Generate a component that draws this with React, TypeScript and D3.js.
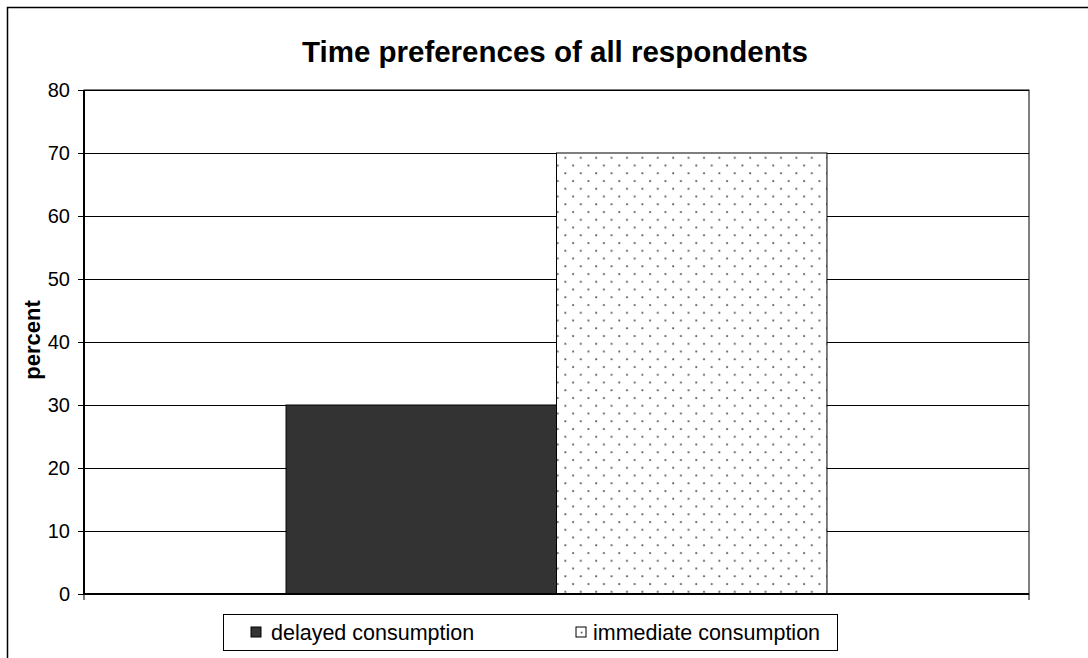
import React from "react";
import * as d3 from "d3";

const categories = ["all respondents"];
const seriesNames = ["delayed consumption", "immediate consumption"];
const seriesValues = [30, 70];
const yTicks = [0, 10, 20, 30, 40, 50, 60, 70, 80];
const titleText = "Time preferences of all respondents";
const yLabel = "percent";

export default function App() {
  const W = 1088, H = 658;
  const left = 84, right = 1029, top = 90, bottom = 594;
  const y = d3.scaleLinear().domain([0, 80]).range([bottom, top]);
  const x0 = d3.scaleBand<string>().domain(categories).range([left, right]).padding(0);
  const x1 = d3.scaleBand<string>().domain(seriesNames).range([0, x0.bandwidth()]).paddingInner(0).paddingOuter(0.747);
  const font = "Arial, 'Liberation Sans', sans-serif";
  const fills = ["#333333", "url(#dots)"];

  return (
    <svg width={W} height={H} style={{ position: "absolute", left: 0, top: 0, background: "#fff" }} fontFamily={font}>
      <defs>
        <pattern id="dots" patternUnits="userSpaceOnUse" width={15.4} height={15.5} x={563.3} y={155.7}>
          <rect width={15.4} height={15.5} fill="#fff" />
          <rect x={1.2} y={1.2} width={1.8} height={1.8} fill="#555" />
          <rect x={8.9} y={8.95} width={1.8} height={1.8} fill="#555" />
        </pattern>
        <pattern id="dotsLeg" patternUnits="userSpaceOnUse" width={11} height={11} x={576} y={627}>
          <rect width={11} height={11} fill="#fff" />
          <rect x={4.7} y={4.7} width={1.7} height={1.7} fill="#555" />
        </pattern>
      </defs>
      <rect x={7.5} y={7.5} width={1200} height={800} fill="#fff" stroke="#000" strokeWidth={1.5} />
      <text x={555} y={62} textAnchor="middle" fontWeight="bold" fontSize={29.5}>{titleText}</text>
      <rect x={left} y={top} width={right - left} height={bottom - top} fill="#fff" stroke="#000" strokeWidth={1} />
      {yTicks.map((t) => (
        <g key={t}>
          <line x1={left} x2={right} y1={Math.round(y(t)) + 0.5} y2={Math.round(y(t)) + 0.5} stroke="#000" strokeWidth={1} />
          <line x1={left - 6} x2={left} y1={Math.round(y(t)) + 0.5} y2={Math.round(y(t)) + 0.5} stroke="#000" strokeWidth={1} />
          <text x={70} y={y(t)} dy="0.36em" textAnchor="end" fontSize={20}>{t}</text>
        </g>
      ))}
      {categories.map((c) => (
        <g key={c}>
          {seriesNames.map((s, i) => (
            <rect key={s} x={x0(c)! + x1(s)!} y={y(seriesValues[i])} width={x1.bandwidth()} height={y(0) - y(seriesValues[i])}
              fill={fills[i]} stroke="#000" strokeWidth={1} />
          ))}
        </g>
      ))}
      <line x1={left} x2={right} y1={bottom} y2={bottom} stroke="#000" strokeWidth={2} />
      <line x1={left} x2={left} y1={top} y2={bottom} stroke="#000" strokeWidth={2} />
      {[left, right].map((v) => (
        <line key={v} x1={v} x2={v} y1={bottom} y2={bottom + 6} stroke="#000" strokeWidth={1} />
      ))}
      <text transform={`translate(40,340) rotate(-90)`} textAnchor="middle" fontWeight="bold" fontSize={22}>{yLabel}</text>
      <rect x={223.5} y={614.5} width={614} height={36} fill="#fff" stroke="#000" strokeWidth={1} />
      <rect x={251} y={627} width={10} height={10} fill="#333333" stroke="#000" strokeWidth={1} />
      <text x={271} y={640} fontSize={21.5}>{seriesNames[0]}</text>
      <rect x={576} y={627} width={10} height={10} fill="url(#dotsLeg)" stroke="#000" strokeWidth={1} />
      <text x={593} y={640} fontSize={21.5}>{seriesNames[1]}</text>
    </svg>
  );
}
